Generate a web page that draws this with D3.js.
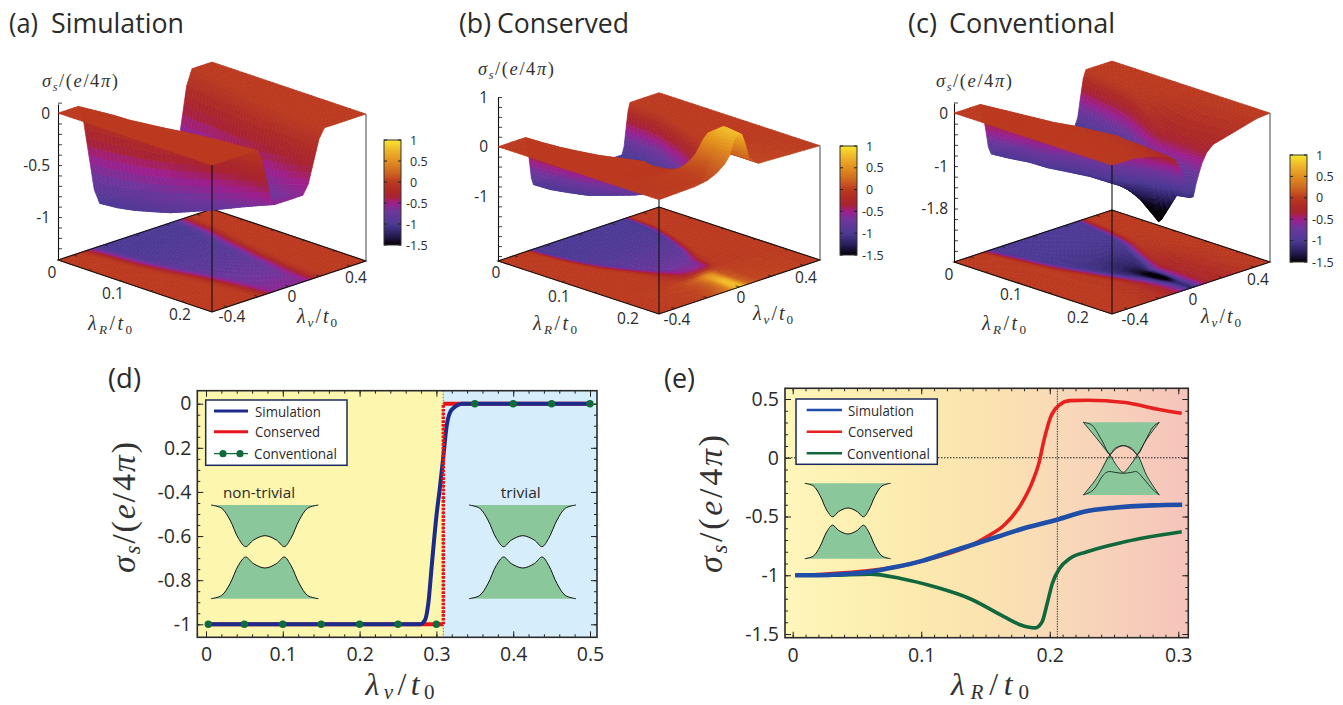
<!DOCTYPE html>
<html>
<head>
<meta charset="utf-8">
<style>
  body { margin: 0; background: #fff; }
  svg { display: block; }
  text { font-family: "Open Sans", "Noto Sans", sans-serif; fill: #2a2a2a; }
  .math, .math text { font-family: "Liberation Serif", serif; fill: #333; }
</style>
<script src="https://cdn.jsdelivr.net/npm/d3@7"></script>
</head>
<body>
<div id="chart"></div>
<script>
var lambdaR = [0, .025, .05, .075, .1, .125, .15, .175, .2, .225, .25];

var simV = [
  [-.5,-.37,-.335,-.3,-.265,-.23,0,.23,.265,.3,.335,.37,.5],
  [-.5,-.355,-.32,-.285,-.25,-.215,0,.215,.25,.285,.32,.355,.5],
  [-.5,-.34,-.31,-.275,-.24,-.205,0,.205,.24,.275,.31,.345,.5],
  [-.5,-.335,-.3,-.265,-.23,-.19,0,.18,.215,.25,.29,.325,.5],
  [-.5,-.315,-.28,-.245,-.21,-.17,0,.16,.195,.23,.265,.305,.5],
  [-.5,-.295,-.26,-.225,-.19,-.15,0,.145,.18,.215,.25,.285,.5],
  [-.5,-.27,-.235,-.2,-.162,-.125,0,.125,.16,.195,.23,.265,.5],
  [-.5,-.25,-.215,-.18,-.145,-.11,0,.115,.15,.185,.22,.255,.5],
  [-.5,-.235,-.2,-.165,-.13,-.095,0,.1,.135,.17,.205,.24,.5],
  [-.5,-.225,-.19,-.155,-.12,-.09,0,.09,.125,.16,.195,.23,.5],
  [-.5,-.21,-.18,-.15,-.12,-.09,0,.09,.125,.16,.195,.23,.5]
];
var simZ = [
  [0,0,-.15,-.5,-.85,-1,-1,-1,-.85,-.5,-.15,0,0],
  [0,0,-.15,-.5,-.85,-1,-1,-1,-.85,-.5,-.15,0,0],
  [0,0,-.15,-.49,-.83,-.98,-.98,-.98,-.83,-.49,-.15,0,0],
  [0,0,-.14,-.48,-.81,-.95,-.95,-.95,-.81,-.48,-.14,0,0],
  [0,0,-.14,-.46,-.78,-.92,-.92,-.92,-.78,-.46,-.14,0,0],
  [0,0,-.13,-.44,-.74,-.87,-.87,-.87,-.74,-.44,-.13,0,0],
  [0,0,-.12,-.41,-.7,-.82,-.82,-.82,-.7,-.41,-.12,0,0],
  [0,0,-.11,-.38,-.65,-.76,-.76,-.76,-.65,-.38,-.11,0,0],
  [0,0,-.1,-.35,-.6,-.7,-.7,-.7,-.6,-.35,-.1,0,0],
  [0,0,-.1,-.32,-.54,-.64,-.64,-.64,-.54,-.32,-.1,0,0],
  [0,0,-.09,-.29,-.49,-.58,-.58,-.58,-.49,-.29,-.09,0,0]
];

var consV = [
  [-.5,-.33,-.318,-.305,-.293,-.28,0,.27,.283,.295,.308,.32,.5],
  [-.5,-.325,-.313,-.3,-.288,-.275,0,.265,.278,.29,.303,.315,.5],
  [-.5,-.315,-.3,-.285,-.27,-.255,0,.25,.265,.28,.295,.31,.5],
  [-.5,-.295,-.28,-.265,-.25,-.235,0,.22,.235,.25,.265,.28,.5],
  [-.5,-.27,-.253,-.235,-.218,-.2,0,.18,.198,.215,.233,.25,.5],
  [-.5,-.23,-.21,-.19,-.17,-.15,0,.135,.155,.175,.195,.215,.5],
  [-.5,-.19,-.165,-.14,-.115,-.09,-.01,.075,.1,.125,.15,.175,.5],
  [-.5,-.22,-.14,-.09,-.05,-.01,.025,.06,.085,.105,.125,.16,.5],
  [-.5,-.26,-.18,-.12,-.07,-.04,-.02,.005,.03,.05,.075,.14,.5],
  [-.5,-.26,-.18,-.12,-.08,-.05,-.03,-.005,.02,.04,.065,.13,.5],
  [-.5,-.28,-.2,-.14,-.09,-.06,-.035,-.01,.015,.035,.06,.12,.5]
];
var consZ = [
  [0,0,-.15,-.5,-.85,-1,-1,-1,-.85,-.5,-.15,0,0],
  [0,0,-.15,-.5,-.85,-1,-1,-1,-.85,-.5,-.15,0,0],
  [0,0,-.15,-.49,-.83,-.98,-.98,-.98,-.83,-.49,-.15,0,0],
  [0,0,-.14,-.48,-.81,-.95,-.95,-.95,-.81,-.48,-.14,0,0],
  [0,0,-.13,-.44,-.75,-.88,-.88,-.88,-.75,-.44,-.13,0,0],
  [0,0,-.12,-.41,-.7,-.82,-.82,-.82,-.7,-.41,-.12,0,0],
  [0,0,-.11,-.36,-.61,-.72,-.72,-.72,-.61,-.36,-.11,0,0],
  [0,-.02,-.1,-.3,-.48,-.54,-.55,-.55,-.48,-.3,-.1,-.02,0],
  [0,.02,.05,.12,.25,.4,.5,.58,.52,.32,.12,.03,0],
  [0,.02,.05,.11,.2,.38,.6,.82,.78,.55,.2,.04,0],
  [0,.02,.06,.15,.28,.42,.68,.8,.75,.55,.22,.06,0]
];

var convV = [
  [-.5,-.4,-.335,-.318,-.3,-.283,-.265,-.1,0,.1,.265,.283,.3,.318,.335,.4,.5],
  [-.5,-.4,-.32,-.303,-.285,-.268,-.25,-.1,0,.1,.25,.268,.285,.303,.32,.4,.5],
  [-.5,-.4,-.305,-.285,-.265,-.245,-.225,-.1,0,.1,.23,.25,.27,.29,.31,.38,.5],
  [-.5,-.38,-.29,-.27,-.25,-.23,-.21,-.1,0,.1,.21,.23,.25,.27,.29,.36,.5],
  [-.5,-.36,-.27,-.248,-.225,-.203,-.18,-.08,0,.08,.175,.198,.22,.243,.265,.36,.5],
  [-.5,-.33,-.24,-.215,-.19,-.165,-.14,-.06,-.01,.05,.12,.145,.17,.195,.22,.36,.5],
  [-.5,-.3,-.205,-.18,-.155,-.13,-.105,-.07,-.025,.025,.075,.1,.125,.15,.175,.38,.5],
  [-.5,-.28,-.17,-.145,-.12,-.095,-.07,-.05,-.02,.01,.035,.06,.085,.11,.135,.38,.5],
  [-.5,-.28,-.18,-.14,-.1,-.07,-.05,-.03,-.005,.015,.03,.05,.07,.1,.14,.38,.5],
  [-.5,-.3,-.18,-.14,-.1,-.07,-.045,-.025,-.005,.015,.03,.05,.07,.1,.14,.4,.5],
  [-.5,-.36,-.22,-.14,-.1,-.06,-.04,-.02,-.005,.015,.03,.05,.07,.1,.14,.42,.5]
];
var convZ = [
  [0,0,0,-.15,-.5,-.85,-1,-1,-1,-1,-1,-.85,-.5,-.15,0,0,0],
  [0,0,0,-.15,-.5,-.85,-1,-1,-1,-1,-1,-.85,-.5,-.15,0,0,0],
  [0,0,0,-.15,-.5,-.85,-1,-1,-1,-1,-1,-.85,-.5,-.15,-.01,0,0],
  [0,0,0,-.15,-.51,-.87,-1.02,-1.02,-1.02,-1.02,-1.02,-.87,-.51,-.15,-.02,-.01,0],
  [0,0,-.01,-.16,-.53,-.89,-1.03,-1.05,-1.05,-1.05,-1.03,-.89,-.53,-.16,-.04,-.01,0],
  [0,0,-.01,-.17,-.56,-.95,-1.06,-1.12,-1.14,-1.13,-1.1,-.93,-.54,-.16,-.1,-.015,0],
  [0,-.005,-.04,-.2,-.6,-1,-1.12,-1.18,-1.25,-1.22,-1.12,-.95,-.55,-.25,-.17,-.02,0],
  [0,-.01,-.07,-.25,-.6,-1,-1.1,-1.25,-1.42,-1.38,-1.12,-.85,-.5,-.33,-.25,-.03,0],
  [0,-.015,-.08,-.15,-.4,-.8,-1,-1.3,-1.75,-1.72,-1.3,-.95,-.6,-.4,-.26,-.03,0],
  [0,-.02,-.11,-.18,-.3,-.52,-.78,-.98,-1.15,-1.15,-.98,-.78,-.55,-.36,-.25,-.02,0],
  [0,-.01,-.1,-.2,-.3,-.55,-.75,-.95,-1.1,-1.1,-.9,-.7,-.52,-.35,-.24,-.02,0]
];

// panel d
var dSimX = [0, .2786, .2852, .2895, .2938, .3, .3047, .309, .3134, .3177, .3242, .333, .5];
var dSimY = [-1, -1, -.98, -.905, -.74, -.51, -.376, -.24, -.1, -.04, -.014, 0, 0];
var dConsX = [.003, .309, .309, .5];
var dConsY = [-1, -1, 0, 0];
var dConvX = [.003, .05, .1, .15, .2, .25, .3, .35, .4, .45, .5];
var dConvY = [-1, -1, -1, -1, -1, -1, -1, 0, 0, 0, 0];
var dBoundary = .309;

// panel e
var eSimX = [.002, .02, .04, .06, .08, .1, .12, .14, .16, .18, .2065, .2265, .25, .28, .303];
var eSimY = [-1, -1, -.99, -.97, -.93, -.88, -.81, -.74, -.67, -.6, -.525, -.46, -.425, -.405, -.4];
var eConsX = [.002, .02, .04, .06, .08, .1, .12, .14, .151, .1646, .178, .186, .1915, .1955, .2008, .2076, .2156, .229, .2585, .285, .3027];
var eConsY = [-1, -.995, -.98, -.96, -.93, -.88, -.82, -.74, -.673, -.573, -.39, -.218, -.048, .15, .35, .45, .486, .49, .47, .41, .378];
var eConvX = [.002, .03, .06, .084, .111, .138, .1646, .178, .1887, .194, .198, .202, .2076, .2156, .229, .2585, .3027];
var eConvY = [-1, -1, -.99, -1.027, -1.1, -1.2, -1.354, -1.425, -1.448, -1.397, -1.24, -1.07, -.942, -.857, -.8, -.715, -.63];
var eBoundary = .2059;

// band sketches, normalised
var bandT = [0, .1, .177, .255, .323, .395, .503, .611, .683, .745, .823, .9, 1];
var bandUp = [1, .93, .68, .29, .11, .25, .345, .25, .11, .29, .68, .93, 1];
var crossT1 = [0, .175, .351, .439, .526, .614, .711, .842, 1];
var crossA = [1, .56, .1, -.19, -.376, -.19, .1, .56, 1];
var crossC = [-1, -.54, .1, .284, .358, .284, .1, -.495, -1];
var crossTB = [0, .11, .241, .351, .417, .526, .636, .711, .811, .921, 1];
var crossB = [1, .927, .514, .119, .284, .358, .284, .119, .468, .881, 1];
var crossTD = [0, .132, .263, .329, .417, .526, .636, .702, .789, .921, 1];
var crossD = [-1, -.862, -.45, -.358, -.376, -.404, -.376, -.358, -.54, -.862, -1];

// colour bar
var colorDomain = [-1.5, -1.25, -1, -.7, -.5, -.35, -.2, 0, .25, .5, .75, 1];
var colorRange = ["#050006", "#2b1f5e", "#4d3a95", "#6e369c", "#a01e8c", "#a82332", "#ae2a26", "#bb3a20", "#d06a20", "#e28f1f", "#efb52a", "#f8e62e"];
var colorTicks = [1, .5, 0, -.5, -1, -1.5];

var W = 1343, H = 705, SUB = 4;

var color = d3.scaleLinear().domain(colorDomain).range(colorRange).clamp(true);
var uScale = d3.scaleLinear().domain([0, .25]).range([0, 1]);
var vScale = d3.scaleLinear().domain([-.5, .5]).range([0, 1]);

var svg = d3.select("#chart").append("svg").attr("width", W).attr("height", H);
var defs = svg.append("defs");

var bandGreen = "#8ac89b";

var panels = [
  {knots: simV, vals: simZ, L: [58, 260], F: [212, 312], B: [212, 209], R: [366, 260],
   zDom: [-1.413, .087], zRange: [260, 104], zTicks: [0, -.5, -1], zLabels: ["0", "-0.5", "-1"], zStep: .1, zX: 50,
   bar: [384, 401, 140, 245],
   lab: [[52, 272, "0"], [113, 293, "0.1"], [180, 314, "0.2"], [232, 316, "-0.4"], [292, 296, "0"], [356, 277, "0.4"]],
   sigma: [42, 87], lr: [88, 330], lv: [297, 323]},
  {knots: consV, vals: consZ, L: [498, 261], F: [659, 314], B: [659, 207], R: [821, 261],
   zDom: [-2.30, 1], zRange: [261, 97], zTicks: [1, 0, -1], zLabels: ["1", "0", "-1"], zStep: .2, zX: 488,
   bar: [840, 857, 146, 255],
   lab: [[496, 272, "0"], [559, 296, "0.1"], [628, 318, "0.2"], [677, 319, "-0.4"], [741, 297, "0"], [806, 277, "0.4"]],
   sigma: [478, 75], lr: [533, 330], lv: [753, 320]},
  {knots: convV, vals: convZ, L: [954, 262], F: [1112, 314], B: [1112, 210], R: [1271, 262],
   zDom: [-2.81, .19], zRange: [262, 103], zTicks: [0, -1, -1.8], zLabels: ["0", "-1", "-1.8"], zStep: .2, zX: 948,
   bar: [1290, 1307, 155, 262],
   lab: [[949, 274, "0"], [1011, 294, "0.1"], [1078, 317, "0.2"], [1135, 319, "-0.4"], [1193, 299, "0"], [1258, 279, "0.4"]],
   sigma: [936, 87], lr: [982, 330], lv: [1201, 323]}
];

// math label made of [text, italic, sub] runs
function math(parent, x, y, size, runs, anchor, drop) {
  var t = parent.append("text").attr("class", "math").attr("x", x).attr("y", y)
    .attr("font-size", size).attr("text-anchor", anchor || "start");
  var shift = 0;
  runs.forEach(function (r) {
    var target = r[2] ? size * (drop || .2) : 0;
    t.append("tspan").text(r[0])
      .attr("dy", target - shift)
      .attr("font-style", r[1] ? "italic" : "normal")
      .attr("font-size", r[2] ? size * .66 : size);
    shift = target;
  });
  return t;
}
var sigmaRuns = [["σ", 1], ["s", 1, 1], ["/(", 0], ["e", 1], ["/4", 0], ["π", 1], [")", 0]];
var lambdaRRuns = [["λ", 1], ["R", 1, 1], ["/", 0], ["t", 1], ["0", 0, 1]];
var lambdaVRuns = [["λ", 1], ["v", 1, 1], ["/", 0], ["t", 1], ["0", 0, 1]];

panels.forEach(function (p, k) {
  var g = svg.append("g");
  var z = d3.scaleLinear().domain(p.zDom).range(p.zRange);
  var ax = [p.F[0] - p.L[0], p.F[1] - p.L[1]], ay = [p.B[0] - p.L[0], p.B[1] - p.L[1]];
  function proj(lr, lv, h) {
    var u = uScale(lr), v = vScale(lv);
    return [p.L[0] + u * ax[0] + v * ay[0], z(h) + u * ax[1] + v * ay[1]];
  }
  // fine grid for pm3d style shading inside each data cell
  var cells = [];
  var nk = p.knots[0].length;
  var nr = (lambdaR.length - 1) * SUB, nc = (nk - 1) * SUB;
  function at(fi, fj) {
    var i = Math.min(Math.floor(fi / SUB), lambdaR.length - 2), a = fi / SUB - i;
    var j = Math.min(Math.floor(fj / SUB), nk - 2), b = fj / SUB - j;
    function mix(t) {
      return (1 - a) * ((1 - b) * t[i][j] + b * t[i][j + 1]) + a * ((1 - b) * t[i + 1][j] + b * t[i + 1][j + 1]);
    }
    return [lambdaR[i] + a * (lambdaR[i + 1] - lambdaR[i]), mix(p.knots), mix(p.vals)];
  }
  // back corner first, front corner last
  for (var fi = 0; fi < nr; fi++) {
    for (var fj = nc - 1; fj >= 0; fj--) {
      var c = [at(fi, fj), at(fi, fj + 1), at(fi + 1, fj + 1), at(fi + 1, fj)];
      cells.push({c: c, mean: d3.mean(c, function (d) { return d[2]; })});
    }
  }
  function pts(d, flat) {
    return d.c.map(function (q) { return proj(q[0], q[1], flat ? p.zDom[0] : q[2]).join(","); }).join(" ");
  }
  var fill = function (d) { return color(d.mean); };

  g.append("g").selectAll("polygon").data(cells).join("polygon")
    .attr("points", function (d) { return pts(d, true); })
    .attr("fill", fill).attr("stroke", fill).attr("stroke-width", .7);

  // floor box
  var f0 = p.zDom[0], corners = [proj(0, -.5, f0), proj(.25, -.5, f0), proj(.25, .5, f0), proj(0, .5, f0)];
  g.append("polygon").attr("points", corners.map(String).join(" "))
    .attr("fill", "none").attr("stroke", "#111").attr("stroke-width", 1.1);

  var tickG = g.append("g").attr("stroke", "#222").attr("stroke-width", .8);
  [0, .05, .1, .15, .2].forEach(function (t) {
    [[-.5, -.485], [.5, .485]].forEach(function (e) {
      var a = proj(t, e[0], f0), b = proj(t, e[1], f0);
      tickG.append("line").attr("x1", a[0]).attr("y1", a[1]).attr("x2", b[0]).attr("y2", b[1]);
    });
  });
  [-.4, -.2, 0, .2, .4].forEach(function (t) {
    [[0, .006], [.25, .244]].forEach(function (e) {
      var a = proj(e[0], t, f0), b = proj(e[1], t, f0);
      tickG.append("line").attr("x1", a[0]).attr("y1", a[1]).attr("x2", b[0]).attr("y2", b[1]);
    });
  });

  // z axis and the back right edge
  var zAxis = g.append("g").attr("transform", "translate(" + p.L[0] + ",0)")
    .call(d3.axisLeft(z).tickValues(d3.range(p.zDom[1], p.zDom[0], -p.zStep).map(function (v) {
        return Math.round(v / p.zStep) * p.zStep; })).tickSize(-4).tickSizeOuter(0).tickFormat(""));
  zAxis.selectAll("path").attr("stroke", "#111").attr("stroke-width", 1.1);
  zAxis.selectAll("line").attr("stroke", "#111").attr("stroke-width", .8);
  p.zTicks.forEach(function (t, i) {
    g.append("text").attr("x", p.zX).attr("y", z(t) + 5.5).attr("text-anchor", "end")
      .attr("font-size", 15.5).text(p.zLabels[i]);
  });
  var rTop = proj(.25, .5, 0), rBot = proj(.25, .5, f0);
  g.append("line").attr("x1", rTop[0]).attr("y1", rTop[1]).attr("x2", rBot[0]).attr("y2", rBot[1])
    .attr("stroke", "#444").attr("stroke-width", 1);

  g.append("g").selectAll("polygon").data(cells).join("polygon")
    .attr("points", function (d) { return pts(d, false); })
    .attr("fill", fill).attr("stroke", fill).attr("stroke-width", .7);

  // front edge over everything
  var fTop = proj(.25, -.5, 0), fBot = proj(.25, -.5, f0);
  g.append("line").attr("x1", fTop[0]).attr("y1", fTop[1]).attr("x2", fBot[0]).attr("y2", fBot[1])
    .attr("stroke", "#111").attr("stroke-width", 1.1);

  p.lab.forEach(function (l) {
    g.append("text").attr("x", l[0]).attr("y", l[1] + 5.5).attr("text-anchor", "middle")
      .attr("font-size", 15.5).text(l[2]);
  });
  math(g, p.sigma[0], p.sigma[1], 18.5, sigmaRuns).attr("textLength", 76);
  math(g, p.lr[0], p.lr[1], 20, lambdaRRuns).attr("textLength", 44);
  math(g, p.lv[0], p.lv[1], 20, lambdaVRuns).attr("textLength", 40);

  // colour bar
  var id = "bar" + k;
  var grad = defs.append("linearGradient").attr("id", id).attr("x1", 0).attr("x2", 0).attr("y1", 1).attr("y2", 0);
  var barS = d3.scaleLinear().domain([-1.5, 1]).range([p.bar[3], p.bar[2]]);
  colorDomain.forEach(function (v, i) {
    grad.append("stop").attr("offset", (v + 1.5) / 2.5).attr("stop-color", colorRange[i]);
  });
  g.append("rect").attr("x", p.bar[0]).attr("y", p.bar[2]).attr("width", p.bar[1] - p.bar[0])
    .attr("height", p.bar[3] - p.bar[2]).attr("fill", "url(#" + id + ")").attr("stroke", "#333").attr("stroke-width", 1);
  colorTicks.forEach(function (t) {
    [[p.bar[0], p.bar[0] + 3], [p.bar[1], p.bar[1] - 3]].forEach(function (e) {
      g.append("line").attr("x1", e[0]).attr("x2", e[1]).attr("y1", barS(t)).attr("y2", barS(t)).attr("stroke", "#222");
    });
    g.append("text").attr("x", p.bar[1] + (t < 0 ? 5 : 9)).attr("y", barS(t) + 4.5).attr("font-size", 12.5)
      .text(t === 0 ? "0" : String(t));
  });
});

// titles
var titles = [
  ["(a)", 9, 33, 29], ["Simulation", 51, 33, 133],
  ["(b)", 459, 33, 32], ["Conserved", 497, 33, 132],
  ["(c)", 908, 33, 29], ["Conventional", 949, 33, 166],
  ["(d)", 108, 388, 33], ["(e)", 664, 388, 31]
];
titles.forEach(function (t) {
  svg.append("text").attr("x", t[1]).attr("y", t[2]).attr("font-size", 28)
    .attr("textLength", t[3]).attr("lengthAdjust", "spacingAndGlyphs").text(t[0]);
});

// 2d frame with inward ticks on all sides
function frame(box, x, y, o) {
  var g = svg.append("g");
  function side(axisFn, scale, vals, size, pos, lab, pad) {
    var a = axisFn(scale).tickValues(vals).tickSize(-size).tickSizeOuter(0).tickPadding(pad || 0)
      .tickFormat(lab ? function (d) { return lab[vals.indexOf(d)]; } : "");
    var s = g.append("g").attr("transform", pos).call(a);
    s.select(".domain").remove();
    s.selectAll("line").attr("stroke", "#222").attr("stroke-width", 1);
    s.selectAll("text").attr("font-size", 19.5).attr("font-family", "Open Sans").attr("fill", "#2a2a2a");
  }
  var b = "translate(0," + box[3] + ")", tp = "translate(0," + box[2] + ")";
  var l = "translate(" + box[0] + ",0)", r = "translate(" + box[1] + ",0)";
  side(d3.axisBottom, x, o.xMinor, 3, b); side(d3.axisTop, x, o.xMinor, 3, tp);
  side(d3.axisLeft, y, o.yMinor, 3, l); side(d3.axisRight, y, o.yMinor, 3, r);
  side(d3.axisBottom, x, o.xMajor, 6, b, o.xLabels, 10); side(d3.axisTop, x, o.xMajor, 6, tp);
  side(d3.axisLeft, y, o.yMajor, 6, l, o.yLabels, 6); side(d3.axisRight, y, o.yMajor, 6, r);
  g.append("rect").attr("x", box[0]).attr("y", box[2]).attr("width", box[1] - box[0]).attr("height", box[3] - box[2])
    .attr("fill", "none").attr("stroke", "#2a2a2a").attr("stroke-width", 1.6);
}

function legend(box, lineX, rows, textX, stroke) {
  var g = svg.append("g");
  g.append("rect").attr("x", box[0]).attr("y", box[1]).attr("width", box[2] - box[0]).attr("height", box[3] - box[1])
    .attr("fill", "#fff").attr("stroke", stroke).attr("stroke-width", 1.5);
  rows.forEach(function (r) {
    g.append("line").attr("x1", lineX[0]).attr("x2", lineX[1]).attr("y1", r.y).attr("y2", r.y)
      .attr("stroke", r.color).attr("stroke-width", r.w);
    (r.dots || []).forEach(function (cx) {
      g.append("circle").attr("cx", cx).attr("cy", r.y).attr("r", 3.6).attr("fill", r.color);
    });
    g.append("text").attr("x", r.tx || textX).attr("y", r.y + 5.5).attr("font-size", 15)
      .attr("textLength", r.len).attr("lengthAdjust", "spacingAndGlyphs").text(r.name);
  });
}

var bandLine = function (sx, sy) {
  return d3.line().x(function (d) { return sx(d[0]); }).y(function (d) { return sy(d[1]); }).curve(d3.curveCatmullRom);
};
// two-band sketch used in d and e
function bandInset(x0, x1, yBot, yTop) {
  var sx = d3.scaleLinear().domain([0, 1]).range([x0, x1]);
  var sy = d3.scaleLinear().domain([-1, 1]).range([yBot, yTop]);
  var line = bandLine(sx, sy);
  var up = bandT.map(function (t, i) { return [t, bandUp[i]]; });
  var down = bandT.map(function (t, i) { return [t, -bandUp[i]]; });
  [up, down].forEach(function (c) {
    svg.append("path").attr("d", line(c) + "Z").attr("fill", bandGreen);
    svg.append("path").attr("d", line(c)).attr("fill", "none").attr("stroke", "#111").attr("stroke-width", 1);
  });
}
// crossed-band sketch in e
function crossInset(x0, x1, yBot, yTop) {
  var sx = d3.scaleLinear().domain([0, 1]).range([x0, x1]);
  var sy = d3.scaleLinear().domain([-1, 1]).range([yBot, yTop]);
  var line = bandLine(sx, sy);
  var A = crossT1.map(function (t, i) { return [t, crossA[i]]; });
  var C = crossT1.map(function (t, i) { return [t, crossC[i]]; });
  var Bc = crossTB.map(function (t, i) { return [t, crossB[i]]; });
  var D = crossTD.map(function (t, i) { return [t, crossD[i]]; });
  var upper = A.slice(0, 3).concat(Bc.slice(4, 7), A.slice(6));
  var lower = C.slice(0, 3).concat(A.slice(3, 6), C.slice(6));
  [upper, lower].forEach(function (c) {
    svg.append("path").attr("d", line(c) + "Z").attr("fill", bandGreen);
  });
  [A, C, Bc, D].forEach(function (c) {
    svg.append("path").attr("d", line(c)).attr("fill", "none").attr("stroke", "#222").attr("stroke-width", .9);
  });
}

function curve(x, y, xs, ys) {
  return d3.line().x(function (i) { return x(xs[i]); }).y(function (i) { return y(ys[i]); })
    .curve(d3.curveMonotoneX)(d3.range(xs.length));
}

// ---- panel d
var dBox = [197.3, 597, 390.7, 637.3];
var dx = d3.scaleLinear().domain([0, .5]).range([206, 590]);
var dy = d3.scaleLinear().domain([0, -1]).range([403.7, 624.3]);
svg.append("rect").attr("x", dBox[0]).attr("y", dBox[2]).attr("width", dx(dBoundary) - dBox[0])
  .attr("height", dBox[3] - dBox[2]).attr("fill", "#fdf6ae");
svg.append("rect").attr("x", dx(dBoundary)).attr("y", dBox[2]).attr("width", dBox[1] - dx(dBoundary))
  .attr("height", dBox[3] - dBox[2]).attr("fill", "#d6edfb");
bandInset(211, 318.3, 598.7, 505);
bandInset(469, 576, 598.7, 505);
svg.append("text").attr("x", 259).attr("y", 498).attr("text-anchor", "middle").attr("font-size", 15)
  .attr("textLength", 72).attr("lengthAdjust", "spacingAndGlyphs").text("non-trivial");
svg.append("text").attr("x", 520.7).attr("y", 498).attr("text-anchor", "middle").attr("font-size", 15)
  .attr("textLength", 40).attr("lengthAdjust", "spacingAndGlyphs").text("trivial");
svg.append("line").attr("x1", dx(dBoundary)).attr("x2", dx(dBoundary)).attr("y1", dBox[2]).attr("y2", dBox[3])
  .attr("stroke", "#6d8ba3").attr("stroke-width", 1.2).attr("stroke-dasharray", "1.5 1.5");
frame(dBox, dx, dy, {
  xMajor: [0, .1, .2, .3, .4, .5], xLabels: ["0", "0.1", "0.2", "0.3", "0.4", "0.5"],
  xMinor: d3.range(0, 25).map(function (i) { return i * .02; }).concat([.5]),
  yMajor: [0, -.2, -.4, -.6, -.8, -1], yLabels: ["0", "0.2", "-0.4", "-0.6", "-0.8", "-1"],
  yMinor: d3.range(0, 21).map(function (i) { return -i * .05; })
});
var dLine = d3.line().x(function (i) { return dx(dConsX[i]); }).y(function (i) { return dy(dConsY[i]); });
svg.append("path").attr("d", dLine([0, 1])).attr("stroke", "#e8141c").attr("stroke-width", 4).attr("fill", "none");
svg.append("path").attr("d", dLine([2, 3])).attr("stroke", "#e8141c").attr("stroke-width", 4).attr("fill", "none");
svg.append("path").attr("d", curve(dx, dy, dSimX, dSimY)).attr("stroke", "#1c2a8a").attr("stroke-width", 4).attr("fill", "none");
svg.append("path").attr("d", dLine([1, 2])).attr("stroke", "#e8141c").attr("stroke-width", 3.5)
  .attr("stroke-dasharray", "2.6 1.2").attr("fill", "none");
svg.selectAll("circle.conv").data(d3.range(dConvX.length)).join("circle").attr("class", "conv")
  .attr("cx", function (i) { return dx(dConvX[i]); }).attr("cy", function (i) { return dy(dConvY[i]); })
  .attr("r", 3.7).attr("fill", "#0f6b3c");
legend([205.7, 400, 347, 465.3], [214, 248], [
  {y: 411, color: "#1c2a8a", w: 3, name: "Simulation", len: 66},
  {y: 431.7, color: "#e8141c", w: 3, name: "Conserved", len: 65},
  {y: 453.7, color: "#0f6b3c", w: 1.2, dots: [223, 240], name: "Conventional", len: 83, tx: 254}
], 255, "#1a2a5e");
var dYL = svg.append("g").attr("transform", "translate(135,507.5) rotate(-90)");
math(dYL, 0, 0, 34, sigmaRuns, "middle", .14).attr("textLength", 131);
math(svg, 400, 695, 32, lambdaVRuns, "middle", .12).attr("textLength", 69);

// ---- panel e
var eBox = [785, 1188.3, 388.3, 637.7];
var ex = d3.scaleLinear().domain([0, .3]).range([792.7, 1178.3]);
var ey = d3.scaleLinear().domain([.5, -1.5]).range([399, 634]);
var eGrad = defs.append("linearGradient").attr("id", "eBg");
[[0, "#fff6b9"], [.3, "#fcebae"], [.5, "#fbe3b0"], [.7, "#f9d8b9"], [1, "#f5c4bb"]].forEach(function (s) {
  eGrad.append("stop").attr("offset", s[0]).attr("stop-color", s[1]);
});
svg.append("rect").attr("x", eBox[0]).attr("y", eBox[2]).attr("width", eBox[1] - eBox[0])
  .attr("height", eBox[3] - eBox[2]).attr("fill", "url(#eBg)");
bandInset(804.8, 890.6, 558.7, 483.3);
crossInset(1083.3, 1159.3, 495, 422.3);
svg.append("line").attr("x1", eBox[0]).attr("x2", eBox[1]).attr("y1", ey(0)).attr("y2", ey(0))
  .attr("stroke", "#222").attr("stroke-width", 1).attr("stroke-dasharray", "1.5 1.5");
svg.append("line").attr("x1", ex(eBoundary)).attr("x2", ex(eBoundary)).attr("y1", eBox[2]).attr("y2", eBox[3])
  .attr("stroke", "#26407f").attr("stroke-width", 1).attr("stroke-dasharray", "1.5 1");
frame(eBox, ex, ey, {
  xMajor: [0, .1, .2, .3], xLabels: ["0", "0.1", "0.2", "0.3"],
  xMinor: d3.range(0, 31).map(function (i) { return i * .01; }),
  yMajor: [.5, 0, -.5, -1, -1.5], yLabels: ["0.5", "0", "-0.5", "-1", "-1.5"],
  yMinor: d3.range(0, 21).map(function (i) { return .5 - i * .1; })
});
svg.append("path").attr("d", curve(ex, ey, eConsX, eConsY)).attr("stroke", "#e6211f").attr("stroke-width", 3.6).attr("fill", "none");
svg.append("path").attr("d", curve(ex, ey, eConvX, eConvY)).attr("stroke", "#11683c").attr("stroke-width", 3.6).attr("fill", "none");
svg.append("path").attr("d", curve(ex, ey, eSimX, eSimY)).attr("stroke", "#1f4ea8").attr("stroke-width", 4.6).attr("fill", "none");
legend([796, 399, 937.3, 464.3], [806.7, 842], [
  {y: 410, color: "#1f4ea8", w: 2.6, name: "Simulation", len: 66},
  {y: 431.7, color: "#e6211f", w: 2.6, name: "Conserved", len: 65},
  {y: 453.3, color: "#11683c", w: 2.6, name: "Conventional", len: 83, tx: 847}
], 848, "#1a2a5e");
var eYL = svg.append("g").attr("transform", "translate(722,504) rotate(-90)");
math(eYL, 0, 0, 34, sigmaRuns, "middle", .14).attr("textLength", 138);
math(svg, 990, 695, 32, lambdaRRuns, "middle", .12).attr("textLength", 78);
</script>
</body>
</html>
